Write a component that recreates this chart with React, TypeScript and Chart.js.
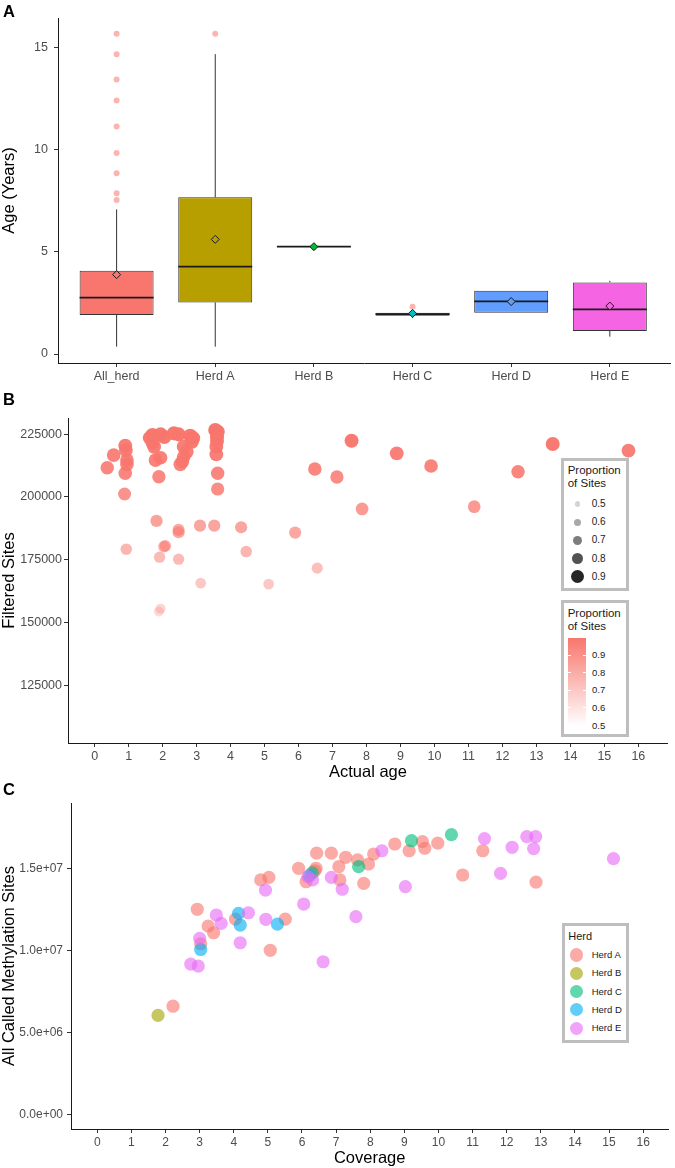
import React, { useEffect, useRef } from 'react';
import { Chart, registerables } from 'chart.js';

Chart.register(...registerables);

const FONT = "'Liberation Sans', Arial, Helvetica, sans-serif";
const TICK_COLOR = '#4D4D4D';

// ---------------- Panel A : age box plots ----------------
const herdCategories = ['All_herd', 'Herd A', 'Herd B', 'Herd C', 'Herd D', 'Herd E'];
const groupColors = ['#F8766D', '#B79F00', '#00BA38', '#00BFC4', '#619CFF', '#F564E3'];
const ageQ1 = [1.91, 2.53, 5.26, 1.88, 2.02, 1.13];
const ageMedian = [2.76, 4.28, 5.26, 1.95, 2.58, 2.19];
const ageQ3 = [4.08, 7.68, 5.26, 2.02, 3.1, 3.51];
const ageWhiskerLow = [0.36, 0.36, 5.26, 1.76, 2.02, 0.85];
const ageWhiskerHigh = [7.09, 14.7, 5.26, 2.02, 3.1, 3.59];
const ageMean = [3.89, 5.62, 5.26, 1.99, 2.57, 2.35];
const ageOutliers = [
  [15.7, 14.69, 13.46, 12.42, 11.15, 9.85, 8.86, 7.88, 7.55],
  [15.7],
  [],
  [2.32],
  [],
  [],
];
const ageTicks = [0, 5, 10, 15];

// ---------------- Panel B : filtered sites vs actual age ----------------
const bAge = [
  0.37, 0.56, 0.9, 0.92, 0.95, 0.95, 0.9, 0.88, 0.93,
  1.62, 1.7, 1.94, 2.05, 1.7, 1.75, 1.79, 1.94, 1.89, 1.82, 2.04, 2.08, 1.91, 1.94, 1.89,
  2.33, 2.47, 2.81, 2.9, 2.86, 2.62, 2.71, 2.62, 2.58, 2.52, 2.47, 2.47, 2.47,
  3.1, 3.12,
  3.55, 3.62, 3.6, 3.6, 3.58, 3.58, 3.62, 3.62, 3.52,
  4.31, 4.46, 5.12, 5.9, 6.55, 6.48, 7.13, 7.56, 7.87, 8.89, 9.9, 11.17, 12.46, 13.48, 15.71,
];
const bSites = [
  211600, 216650, 220350, 218640, 214660, 212950, 209380, 201150, 179170,
  223500, 224600, 224880, 223800, 221500, 219950, 214660, 215580, 208030, 190420, 180200, 180500, 175990, 155440, 154370,
  225280, 224880, 224320, 223400, 221940, 220000, 217960, 215980, 214000, 212950, 186850, 185920, 175200,
  188550, 165650,
  226590, 225910, 223930, 222220, 219950, 216930, 209380, 203140, 188550,
  187910, 178220, 165260, 185770, 171620, 211090, 207910, 222340, 195190, 217330, 212280, 196100, 210010, 221030, 218390,
];
const bProportion = [
  0.9, 0.92, 0.94, 0.93, 0.92, 0.91, 0.9, 0.85, 0.7,
  0.95, 0.96, 0.96, 0.95, 0.94, 0.94, 0.92, 0.92, 0.89, 0.78, 0.72, 0.72, 0.68, 0.56, 0.55,
  0.96, 0.96, 0.96, 0.95, 0.95, 0.94, 0.93, 0.92, 0.92, 0.91, 0.76, 0.76, 0.68,
  0.77, 0.62,
  0.97, 0.97, 0.96, 0.95, 0.94, 0.93, 0.9, 0.87, 0.77,
  0.77, 0.7, 0.62, 0.76, 0.66, 0.9, 0.88, 0.95, 0.82, 0.93, 0.91, 0.82, 0.9, 0.95, 0.93,
];
const bAgeTicks = [0, 1, 2, 3, 4, 5, 6, 7, 8, 9, 10, 11, 12, 13, 14, 15, 16];
const bSiteTicks = [125000, 150000, 175000, 200000, 225000];
const sizeLegendValues = [0.5, 0.6, 0.7, 0.8, 0.9];
const colorLegendValues = [0.9, 0.8, 0.7, 0.6, 0.5];

// ---------------- Panel C : all called sites vs coverage ----------------
const herdNames = ['Herd A', 'Herd B', 'Herd C', 'Herd D', 'Herd E'];
const herdRgb = ['248,118,109', '163,165,0', '0,191,125', '0,176,246', '231,107,243'];
const herdAPoints = [
  [2.22, 6590000], [2.93, 12500000], [3.03, 10400000], [3.25, 11480000], [3.41, 11070000],
  [4.05, 11900000], [4.79, 14290000], [5.03, 14450000], [5.07, 10000000], [5.51, 11900000],
  [5.9, 15000000], [6.12, 14180000], [6.38, 14850000], [6.41, 15000000], [6.43, 15920000],
  [6.86, 15920000], [7.08, 15100000], [7.11, 14290000], [7.28, 15670000], [7.63, 15510000],
  [7.81, 14080000], [7.95, 15260000], [8.1, 15870000], [8.72, 16480000], [9.14, 16070000],
  [9.53, 16620000], [9.6, 16220000], [9.98, 16530000], [10.71, 14590000], [11.3, 16070000],
  [12.86, 14160000],
];
const herdBPoints = [[1.78, 6030000]];
const herdCPoints = [[6.3, 14720000], [7.66, 15100000], [9.21, 16680000], [10.38, 17050000]];
const herdDPoints = [[3.03, 10050000], [4.14, 12250000], [4.19, 11540000], [5.28, 11600000], [6.22, 14550000]];
const herdEPoints = [
  [2.74, 9160000], [2.96, 9040000], [3.0, 10730000], [3.49, 12150000], [3.63, 11640000],
  [4.19, 10460000], [4.43, 12290000], [4.93, 13670000], [4.94, 11890000], [6.05, 12820000],
  [6.17, 14490000], [6.31, 14290000], [6.62, 9300000], [6.86, 14450000], [7.18, 13720000],
  [7.58, 12050000], [8.34, 16070000], [9.03, 13880000], [11.35, 16810000], [11.82, 14690000],
  [12.16, 16280000], [12.59, 16930000], [12.79, 16200000], [12.85, 16930000], [15.13, 15590000],
];
const herdPointSets = [herdAPoints, herdBPoints, herdCPoints, herdDPoints, herdEPoints];
const cCoverageTicks = [0, 1, 2, 3, 4, 5, 6, 7, 8, 9, 10, 11, 12, 13, 14, 15, 16];
const cSiteTicks = [0, 5000000, 10000000, 15000000];
const cSiteTickLabels = ['0.0e+00', '5.0e+06', '1.0e+07', '1.5e+07'];

// ---------------- helpers ----------------
const BOX_WIDTH = 0.75;
const tickGrid = {
  display: true,
  drawOnChartArea: false,
  drawTicks: true,
  tickLength: 4,
  color: '#333333',
  lineWidth: 1,
  offset: false,
};
const axisBorder = { display: true, color: '#1a1a1a', width: 1 };

function fixedTicks(values: number[]) {
  return (scale: any) => {
    scale.ticks = values.map((v) => ({ value: v }));
  };
}

function propAlpha(p: number) {
  return Math.max(0.15, Math.min(1, 0.28 + (p - 0.55) * 1.7));
}
function propRadius(p: number) {
  return 5 + (p - 0.55) * 5;
}

function makeAgeChart(canvas: HTMLCanvasElement) {
  const boxes = herdCategories
    .map((_, i) => ({ x: i, y: [ageQ1[i], ageQ3[i]] }))
    .filter((b) => ageQ3[b.x] > ageQ1[b.x]);
  const outliers = ageOutliers.flatMap((vals, i) => vals.map((v) => ({ x: i, y: v })));
  const means = ageMean.map((m, i) => ({ x: i, y: m }));

  const boxLines = {
    id: 'boxLines',
    afterDatasetDraw(chart: any, args: any) {
      if (args.index !== 0) return;
      const { ctx } = chart;
      const x = chart.scales.x;
      const y = chart.scales.y;
      const half = ((x.getPixelForValue(1) - x.getPixelForValue(0)) * BOX_WIDTH) / 2;
      ctx.save();
      herdCategories.forEach((_, i) => {
        const cx = x.getPixelForValue(i);
        ctx.strokeStyle = '#333333';
        ctx.lineWidth = 1;
        ctx.beginPath();
        if (ageWhiskerHigh[i] > ageQ3[i]) {
          ctx.moveTo(cx, y.getPixelForValue(ageQ3[i]));
          ctx.lineTo(cx, y.getPixelForValue(ageWhiskerHigh[i]));
        }
        if (ageWhiskerLow[i] < ageQ1[i]) {
          ctx.moveTo(cx, y.getPixelForValue(ageQ1[i]));
          ctx.lineTo(cx, y.getPixelForValue(ageWhiskerLow[i]));
        }
        ctx.stroke();
        const ym = y.getPixelForValue(ageMedian[i]);
        ctx.strokeStyle = '#1a1a1a';
        ctx.lineWidth = 1.7;
        ctx.beginPath();
        ctx.moveTo(cx - half, ym);
        ctx.lineTo(cx + half, ym);
        ctx.stroke();
      });
      ctx.restore();
    },
  };

  return new Chart(canvas, {
    type: 'bar',
    data: {
      datasets: [
        {
          type: 'bar',
          data: boxes as any,
          backgroundColor: boxes.map((b) => groupColors[b.x]),
          borderColor: '#333333',
          borderWidth: 1,
          borderSkipped: false,
          barPercentage: BOX_WIDTH,
          categoryPercentage: 1,
          order: 3,
        } as any,
        {
          type: 'scatter',
          data: outliers,
          pointRadius: 3,
          pointBackgroundColor: 'rgba(248,118,109,0.55)',
          pointBorderWidth: 0,
          order: 2,
        } as any,
        {
          type: 'scatter',
          data: means,
          pointStyle: 'rectRot',
          pointRadius: 4,
          pointBackgroundColor: groupColors,
          pointBorderColor: '#1a1a1a',
          pointBorderWidth: 1,
          order: 1,
        } as any,
      ],
    },
    options: {
      responsive: false,
      animation: false,
      events: [],
      layout: { padding: { top: 18, left: 0, right: 0, bottom: 0 } },
      plugins: { legend: { display: false }, tooltip: { enabled: false } },
      scales: {
        x: {
          type: 'linear',
          min: -0.594,
          max: 5.61,
          offset: false,
          afterBuildTicks: fixedTicks(herdCategories.map((_, i) => i)),
          afterFit: (s: any) => {
            s.height = 22;
          },
          grid: tickGrid,
          border: axisBorder,
          ticks: {
            color: TICK_COLOR,
            font: { size: 12.5, family: FONT },
            padding: 2,
            maxRotation: 0,
            autoSkip: false,
            callback: (v: any) => herdCategories[v] ?? '',
          },
        },
        y: {
          type: 'linear',
          min: -0.441,
          max: 16.47,
          afterBuildTicks: fixedTicks(ageTicks),
          afterFit: (s: any) => {
            s.width = 58;
          },
          grid: tickGrid,
          border: axisBorder,
          ticks: { color: TICK_COLOR, font: { size: 12.5, family: FONT }, padding: 6 },
          title: {
            display: true,
            text: 'Age (Years)',
            color: '#000',
            font: { size: 16.5, family: FONT },
            padding: 0,
          },
        },
      } as any,
    },
    plugins: [boxLines],
  });
}

function makeSitesChart(canvas: HTMLCanvasElement) {
  const points = bAge.map((a, i) => ({ x: a, y: bSites[i] }));
  return new Chart(canvas, {
    type: 'scatter',
    data: {
      datasets: [
        {
          data: points,
          pointRadius: (c: any) => propRadius(bProportion[c.dataIndex]),
          pointBackgroundColor: (c: any) => `rgba(248,118,109,${propAlpha(bProportion[c.dataIndex])})`,
          pointBorderWidth: 0,
        } as any,
      ],
    },
    options: {
      responsive: false,
      animation: false,
      events: [],
      layout: { padding: { top: 33, left: 0, right: 0, bottom: 0 } },
      plugins: { legend: { display: false }, tooltip: { enabled: false } },
      scales: {
        x: {
          type: 'linear',
          min: -0.785,
          max: 16.87,
          afterBuildTicks: fixedTicks(bAgeTicks),
          afterFit: (s: any) => {
            s.height = 39;
          },
          grid: tickGrid,
          border: axisBorder,
          ticks: { color: TICK_COLOR, font: { size: 12.5, family: FONT }, padding: 2, maxRotation: 0, autoSkip: false },
          title: { display: true, text: 'Actual age', color: '#000', font: { size: 16.5, family: FONT }, padding: 0 },
        },
        y: {
          type: 'linear',
          min: 102000,
          max: 231400,
          afterBuildTicks: fixedTicks(bSiteTicks),
          afterFit: (s: any) => {
            s.width = 68;
          },
          grid: tickGrid,
          border: axisBorder,
          ticks: {
            color: TICK_COLOR,
            font: { size: 12.5, family: FONT },
            padding: 2,
            callback: (v: any) => String(v),
          },
          title: { display: true, text: 'Filtered Sites', color: '#000', font: { size: 16.5, family: FONT }, padding: 0 },
        },
      } as any,
    },
  });
}

function makeCoverageChart(canvas: HTMLCanvasElement) {
  const datasets = herdPointSets.map((pts, h) => ({
    label: herdNames[h],
    data: pts.map((p) => ({ x: p[0], y: p[1] })),
    pointRadius: 6.6,
    pointBackgroundColor: `rgba(${herdRgb[h]},0.62)`,
    pointBorderWidth: 0,
    order: herdPointSets.length - h,
  }));
  return new Chart(canvas, {
    type: 'scatter',
    data: { datasets: datasets as any },
    options: {
      responsive: false,
      animation: false,
      events: [],
      layout: { padding: { top: 21, left: 0, right: 0, bottom: 0 } },
      plugins: { legend: { display: false }, tooltip: { enabled: false } },
      scales: {
        x: {
          type: 'linear',
          min: -0.771,
          max: 16.74,
          afterBuildTicks: fixedTicks(cCoverageTicks),
          afterFit: (s: any) => {
            s.height = 39;
          },
          grid: tickGrid,
          border: axisBorder,
          ticks: { color: TICK_COLOR, font: { size: 12, family: FONT }, padding: 2, maxRotation: 0, autoSkip: false },
          title: { display: true, text: 'Coverage', color: '#000', font: { size: 16.5, family: FONT }, padding: 0 },
        },
        y: {
          type: 'linear',
          min: -896000,
          max: 18980000,
          afterBuildTicks: fixedTicks(cSiteTicks),
          afterFit: (s: any) => {
            s.width = 71;
          },
          grid: tickGrid,
          border: axisBorder,
          ticks: {
            color: TICK_COLOR,
            font: { size: 12, family: FONT },
            padding: 4,
            callback: (v: any) => {
              const idx = cSiteTicks.indexOf(v);
              return idx >= 0 ? cSiteTickLabels[idx] : '';
            },
          },
          title: {
            display: true,
            text: 'All Called Methylation Sites',
            color: '#000',
            font: { size: 16.5, family: FONT },
            padding: 0,
          },
        },
      } as any,
    },
  });
}

// ---------------- HTML pieces ----------------
function Txt(props: { x: number; y: number; size: number; children: any; color?: string; weight?: number }) {
  const { x, y, size, children, color = '#1A1A1A', weight = 400 } = props;
  return (
    <div
      style={{
        position: 'absolute',
        left: x,
        top: y,
        transform: 'translateY(-50%)',
        fontSize: size,
        lineHeight: 1,
        color,
        fontWeight: weight,
        whiteSpace: 'nowrap',
      }}
    >
      {children}
    </div>
  );
}

function Dot(props: { cx: number; cy: number; r: number; color: string }) {
  const { cx, cy, r, color } = props;
  return (
    <div
      style={{
        position: 'absolute',
        left: cx - r,
        top: cy - r,
        width: r * 2,
        height: r * 2,
        borderRadius: '50%',
        background: color,
      }}
    />
  );
}

function LegendBox(props: { x: number; y: number; w: number; h: number }) {
  return (
    <div
      style={{
        position: 'absolute',
        left: props.x,
        top: props.y,
        width: props.w,
        height: props.h,
        border: '3.5px solid #BEBEBE',
        boxSizing: 'border-box',
        background: '#fff',
      }}
    />
  );
}

function SizeLegend() {
  return (
    <>
      <LegendBox x={561} y={458} w={68} h={133} />
      <Txt x={567.7} y={471} size={11.5}>Proportion</Txt>
      <Txt x={567.7} y={484} size={11.5}>of Sites</Txt>
      {sizeLegendValues.map((v, i) => {
        const cy = 504 + i * 18.2;
        return (
          <React.Fragment key={v}>
            <Dot cx={577.3} cy={cy} r={2.6 + i * 1.0} color={`rgba(0,0,0,${0.17 + i * 0.17})`} />
            <Txt x={591.7} y={cy} size={10}>{v.toFixed(1)}</Txt>
          </React.Fragment>
        );
      })}
    </>
  );
}

function ColorLegend() {
  const barTop = 637.5;
  const barBottom = 725.5;
  const yFor = (v: number) => barBottom - ((v - 0.5) / 0.5) * (barBottom - barTop);
  return (
    <>
      <LegendBox x={561} y={600} w={68} h={137} />
      <Txt x={567.7} y={614} size={11.5}>Proportion</Txt>
      <Txt x={567.7} y={626.7} size={11.5}>of Sites</Txt>
      <div
        style={{
          position: 'absolute',
          left: 567.7,
          top: barTop,
          width: 18.3,
          height: barBottom - barTop,
          background: 'linear-gradient(to bottom, rgb(248,118,109), rgb(255,255,255))',
        }}
      />
      {colorLegendValues.map((v) => {
        const y = yFor(v);
        return (
          <React.Fragment key={v}>
            <div style={{ position: 'absolute', left: 567.7, top: y - 0.5, width: 3.5, height: 1, background: '#fff' }} />
            <div style={{ position: 'absolute', left: 582.5, top: y - 0.5, width: 3.5, height: 1, background: '#fff' }} />
            <Txt x={592} y={y} size={9.5}>{v.toFixed(1)}</Txt>
          </React.Fragment>
        );
      })}
    </>
  );
}

function HerdLegend() {
  return (
    <>
      <LegendBox x={562} y={923} w={67} h={120} />
      <Txt x={568.3} y={935.7} size={11}>Herd</Txt>
      {herdNames.map((name, i) => {
        const cy = 955 + i * 18.3;
        return (
          <React.Fragment key={name}>
            <Dot cx={576.7} cy={cy} r={6.6} color={`rgba(${herdRgb[i]},0.62)`} />
            <Txt x={591.7} y={cy} size={9.5}>{name}</Txt>
          </React.Fragment>
        );
      })}
    </>
  );
}

export default function App() {
  const refA = useRef<HTMLCanvasElement>(null);
  const refB = useRef<HTMLCanvasElement>(null);
  const refC = useRef<HTMLCanvasElement>(null);

  useEffect(() => {
    Chart.defaults.font.family = FONT;
    const charts = [
      makeAgeChart(refA.current as HTMLCanvasElement),
      makeSitesChart(refB.current as HTMLCanvasElement),
      makeCoverageChart(refC.current as HTMLCanvasElement),
    ];
    return () => charts.forEach((c) => c.destroy());
  }, []);

  return (
    <div
      style={{
        position: 'absolute',
        left: 0,
        top: 0,
        width: 675,
        height: 1168,
        background: '#fff',
        fontFamily: FONT,
        overflow: 'hidden',
      }}
    >
      <canvas ref={refA} width={675} height={385} style={{ position: 'absolute', left: 0, top: 0 }} />
      <canvas ref={refB} width={675} height={397} style={{ position: 'absolute', left: 0, top: 385 }} />
      <canvas ref={refC} width={675} height={386} style={{ position: 'absolute', left: 0, top: 782 }} />
      <Txt x={3} y={10.9} size={16.5} weight={700} color="#000">A</Txt>
      <Txt x={3} y={399.2} size={16.5} weight={700} color="#000">B</Txt>
      <Txt x={3} y={789.2} size={16.5} weight={700} color="#000">C</Txt>
      <SizeLegend />
      <ColorLegend />
      <HerdLegend />
    </div>
  );
}
